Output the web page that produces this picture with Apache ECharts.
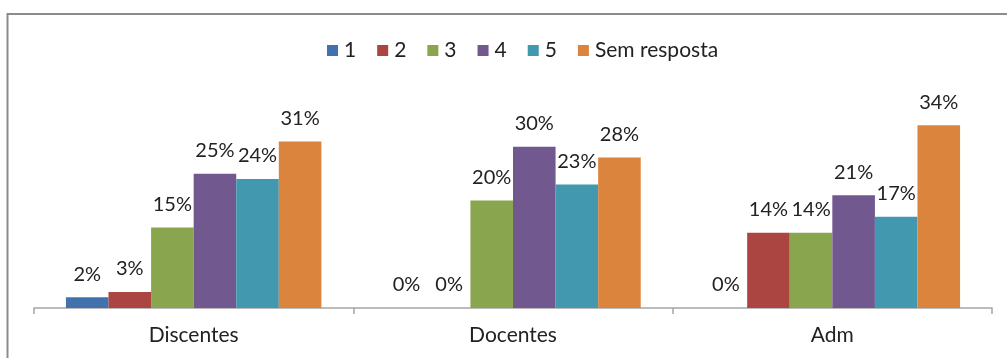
<!DOCTYPE html>
<html>
<head>
<meta charset="utf-8">
<script src="https://cdn.jsdelivr.net/npm/echarts@6/dist/echarts.min.js"></script>
<style>
  html, body { margin: 0; padding: 0; background: #fff; }
  #chart { width: 1007px; height: 358px; }
</style>
</head>
<body>
<div id="chart"></div>
<script>
// Respondent groups along the x axis
const categories = ['Discentes', 'Docentes', 'Adm'];

// Answer options (legend entries)
const seriesNames = ['1', '2', '3', '4', '5', 'Sem resposta'];

// Share of answers per option, in percent, for each group
const answer1 = [2, 0, 0];
const answer2 = [3, 0, 14];
const answer3 = [15, 20, 14];
const answer4 = [25, 30, 21];
const answer5 = [24, 23, 17];
const noAnswer = [31, 28, 34];

const seriesValues = [answer1, answer2, answer3, answer4, answer5, noAnswer];
const colors = ['#4272ae', '#ab4542', '#89a54e', '#71588f', '#4198af', '#db843d'];

const fontFamily = 'Lato, "Open Sans", sans-serif';

const chart = echarts.init(document.getElementById('chart'), null, { renderer: 'canvas' });

chart.setOption({
  animation: false,
  color: colors,
  textStyle: { fontFamily: fontFamily },
  graphic: [{
    type: 'rect',
    shape: { x: 7.5, y: 14, width: 1010, height: 400 },
    style: { fill: 'none', stroke: '#8c8c8c', lineWidth: 2 },
    silent: true,
    z: 0
  }],
  legend: {
    top: 35,
    left: 322,
    itemWidth: 11,
    itemHeight: 11,
    itemGap: 21,
    icon: 'rect',
    textStyle: { fontSize: 21, color: '#222', fontFamily: fontFamily, padding: [0, 0, 0, 1] },
    data: seriesNames
  },
  grid: { left: 34, right: 15, top: 93, bottom: 50, containLabel: false },
  xAxis: {
    type: 'category',
    data: categories,
    axisLine: { lineStyle: { color: '#a6a6a6', width: 1.5 } },
    axisTick: { show: true, length: 6, lineStyle: { color: '#a6a6a6', width: 1.5 } },
    axisLabel: { fontSize: 21, color: '#222', margin: 17, fontFamily: fontFamily }
  },
  yAxis: {
    type: 'value',
    min: 0,
    max: 40,
    show: false,
    splitLine: { show: false }
  },
  series: seriesNames.map((name, i) => ({
    name: name,
    type: 'bar',
    data: seriesValues[i],
    barGap: '0%',
    barCategoryGap: '20%',
    label: {
      show: true,
      position: 'top',
      distance: 13,
      formatter: '{c}%',
      fontSize: 20,
      color: '#222',
      fontFamily: fontFamily
    }
  }))
});
</script>
</body>
</html>
